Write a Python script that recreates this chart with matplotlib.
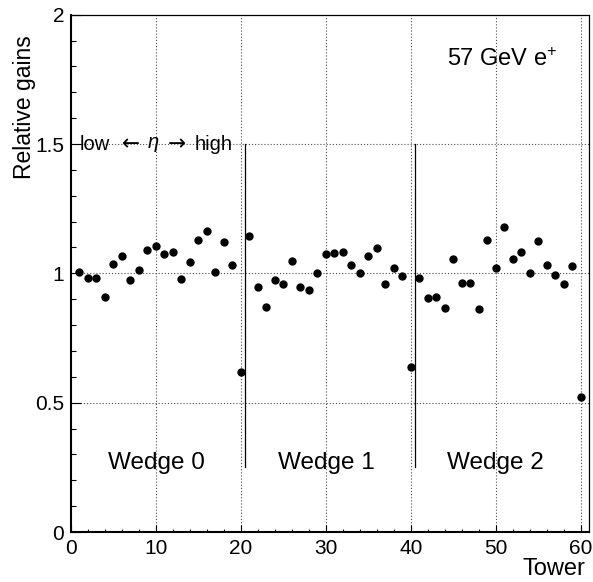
import matplotlib
matplotlib.use("Agg")
import matplotlib.pyplot as plt
from matplotlib.ticker import MultipleLocator, FixedLocator

plt.rcParams['font.family'] = ['Liberation Sans', 'DejaVu Sans']
plt.rcParams['mathtext.fontset'] = 'custom'
plt.rcParams['mathtext.rm'] = 'Liberation Sans'
plt.rcParams['mathtext.it'] = 'Liberation Sans:italic'

towers = list(range(1, 61))
gains = [1.005, 0.983, 0.983, 0.910, 1.037, 1.068, 0.973, 1.014, 1.092, 1.107,
         1.074, 1.081, 0.978, 1.043, 1.128, 1.165, 1.004, 1.120, 1.031, 0.619,
         1.145, 0.946, 0.868, 0.974, 0.959, 1.048, 0.946, 0.937, 1.000, 1.075,
         1.079, 1.081, 1.034, 1.003, 1.067, 1.099, 0.957, 1.019, 0.988, 0.638,
         0.983, 0.904, 0.907, 0.866, 1.057, 0.964, 0.964, 0.864, 1.130, 1.022,
         1.181, 1.054, 1.084, 1.003, 1.125, 1.031, 0.994, 0.957, 1.027, 0.521]
wedge_labels = ["Wedge 0", "Wedge 1", "Wedge 2"]
wedge_centers = [10, 30, 50]
dividers = [20.5, 40.5]
x_ticks = [0, 10, 20, 30, 40, 50, 60]
y_ticks = [0, 0.5, 1, 1.5, 2]
y_tick_labels = ["0", "0.5", "1", "1.5", "2"]

W, H = 593, 582
fig = plt.figure(figsize=(W / 100, H / 100), dpi=100)
ax = fig.add_axes([71 / W, 1 - 532 / H, (589.3 - 71) / W, (532 - 14.7) / H])
ax.set_xlim(0, 61)
ax.set_ylim(0, 2)

# grid
for xv in x_ticks[1:]:
    ax.axvline(xv, color='0.3', lw=0.8, ls=(0, (1, 1.8)), zorder=1)
for yv in y_ticks[1:-1]:
    ax.axhline(yv, color='0.3', lw=0.8, ls=(0, (1, 1.8)), zorder=1)

# dividers
for d in dividers:
    ax.plot([d, d], [0.25, 1.5], color='black', lw=0.9, zorder=2)

ax.plot(towers, gains, 'o', color='black', markersize=5, zorder=3)

ax.xaxis.set_major_locator(FixedLocator(x_ticks))
ax.xaxis.set_minor_locator(MultipleLocator(2))
ax.yaxis.set_major_locator(FixedLocator(y_ticks))
ax.yaxis.set_minor_locator(MultipleLocator(0.1))
ax.set_yticklabels(y_tick_labels)
ax.tick_params(axis='both', which='both', direction='in', top=False, right=False,
               labelsize=15, width=0.8)
ax.tick_params(axis='x', which='major', length=5, pad=5)
ax.tick_params(axis='x', which='minor', length=2.5)
ax.tick_params(axis='y', which='major', length=7, pad=5)
ax.tick_params(axis='y', which='minor', length=3.6)

for s in ['left', 'bottom']:
    ax.spines[s].set_linewidth(1.5)
for s in ['top', 'right']:
    ax.spines[s].set_linewidth(0.9)

for lab, c in zip(wedge_labels, wedge_centers):
    ax.text(c, 0.242, lab, ha='center', va='baseline', fontsize=17.5)

# "low <- eta -> high" annotation
eta_fs = 14.5
ax.text(1.06, 1.5, 'low', ha='left', va='center', fontsize=eta_fs)
ax.text(7.06, 1.5, '\u2190', ha='center', va='center', fontsize=15.5,
        family='DejaVu Sans')
ax.text(9.65, 1.5, r'$\eta$', ha='center', va='center', fontsize=eta_fs)
ax.text(12.47, 1.5, '\u2192', ha='center', va='center', fontsize=15.5,
        family='DejaVu Sans')
ax.text(19.06, 1.5, 'high', ha='right', va='center', fontsize=eta_fs)

ax.text(57.3, 1.80, r'57 GeV e$^{+}$', ha='right', va='baseline', fontsize=17)

fig.text(585 / W, 1 - 575 / H, 'Tower', ha='right', va='baseline', fontsize=17)
fig.text(31 / W, 1 - 35 / H, 'Relative gains', ha='right', va='baseline', rotation=90,
         fontsize=16.5, rotation_mode='anchor')

fig.savefig('out.png', dpi=100)
